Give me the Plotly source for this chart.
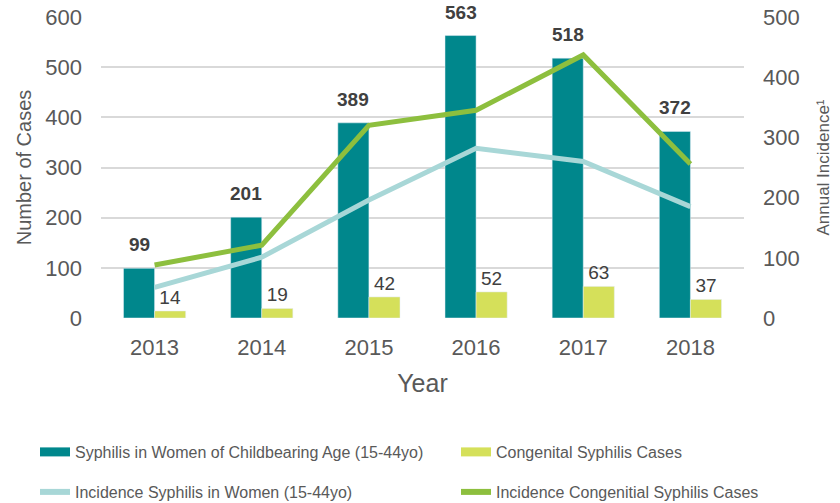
import plotly.graph_objects as go

years = ["2013", "2014", "2015", "2016", "2017", "2018"]
women_cases = [99, 201, 389, 563, 518, 372]
congenital_cases = [14, 19, 42, 52, 63, 37]
incidence_women = [51, 101, 196, 282, 260, 185]
incidence_congenital = [88, 121, 320, 345, 437, 256]

TEAL = "#00878C"
YELLOW = "#D5E05A"
CYAN = "#A8D7D7"
GREEN = "#8DBF3E"
GREY = "#595959"
FONT = "Liberation Sans, Arial, sans-serif"

# plot area in pixels (used to place the legends in paper coords)
L, R, T, B = 101, 744, 17, 318

fig = go.Figure()

fig.add_trace(go.Bar(x=years, y=women_cases, marker_color=TEAL, showlegend=False))
fig.add_trace(go.Bar(x=years, y=congenital_cases, marker_color=YELLOW, showlegend=False,
                     text=congenital_cases, textposition="outside", cliponaxis=False,
                     textfont=dict(size=19, color="#404040", family=FONT)))

fig.add_trace(go.Scatter(x=years, y=incidence_women, yaxis="y2", mode="lines",
                         line=dict(color=CYAN, width=5), showlegend=False))
fig.add_trace(go.Scatter(x=years, y=incidence_congenital, yaxis="y2", mode="lines",
                         line=dict(color=GREEN, width=5), showlegend=False))

# legend-only entries, one legend box each so they sit in a 2x2 grid
legend_items = [
    ("Syphilis in Women of Childbearing Age (15-44yo)", TEAL, 9, "legend"),
    ("Congenital Syphilis Cases", YELLOW, 9, "legend2"),
    ("Incidence Syphilis in Women (15-44yo)", CYAN, 6, "legend3"),
    ("Incidence Congenitial Syphilis Cases", GREEN, 6, "legend4"),
]
for name, col, w, lg in legend_items:
    fig.add_trace(go.Scatter(x=[years[0]], y=[None], mode="lines", line=dict(color=col, width=w),
                             name=name, legend=lg, hoverinfo="skip"))

# bold labels over the teal bars (x as category index, otherwise "2013" is read as a number)
for i, v in enumerate(women_cases):
    fig.add_annotation(x=i, y=v, text=f"<b>{v}</b>", showarrow=False, yanchor="bottom",
                       xshift=-15.5, yshift=11,
                       font=dict(size=19, color="#404040", family=FONT))

def leg(px, py):
    return dict(orientation="h", x=(px - L) / (R - L), y=(B - py) / (B - T),
                xanchor="left", yanchor="middle", borderwidth=0, tracegroupgap=0,
                font=dict(size=16, color=GREY, family=FONT), bgcolor="rgba(0,0,0,0)")

fig.update_layout(
    width=840, height=503,
    margin=dict(l=L, r=840 - R, t=T, b=503 - B, autoexpand=False),
    plot_bgcolor="white", paper_bgcolor="white",
    font=dict(family=FONT, color=GREY),
    barmode="group", bargap=0.42, bargroupgap=0,
    xaxis=dict(type="category", range=[-0.5, 5.5], showline=False, ticks="",
               automargin=False, ticklabelstandoff=14, tickfont=dict(size=22, color=GREY),
               title=dict(text="Year", font=dict(size=25, color=GREY), standoff=15)),
    yaxis=dict(range=[0, 600], dtick=100, showgrid=True, gridcolor="#D9D9D9", gridwidth=1.5,
               zeroline=False, showline=False, ticklabelstandoff=18, automargin=False,
               tickfont=dict(size=22, color=GREY),
               title=dict(text="Number of Cases", font=dict(size=20, color=GREY), standoff=8)),
    yaxis2=dict(range=[0, 500], dtick=100, overlaying="y", side="right", showgrid=False,
                zeroline=False, showline=False, ticklabelstandoff=18, automargin=False,
                tickfont=dict(size=22, color=GREY),
                title=dict(text="Annual Incidence¹", font=dict(size=17, color=GREY), standoff=18)),
    legend=leg(35, 452),
    legend2=leg(456, 452),
    legend3=leg(35, 492),
    legend4=leg(456, 492),
)

# drop the browser's default 8px body margin so the figure sits at the page corner
fig.write_html("out.html", config={"displayModeBar": False},
               post_script="document.body.style.margin='0';")
